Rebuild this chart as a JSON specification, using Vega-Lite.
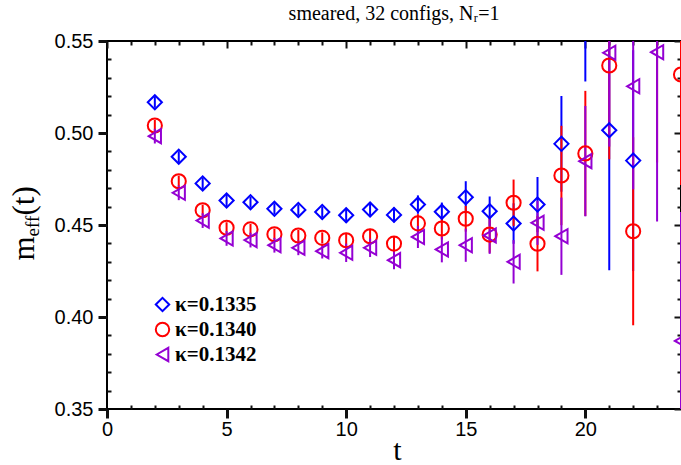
{
  "$schema": "https://vega.github.io/schema/vega-lite/v6.json",
  "width": 574,
  "height": 368,
  "autosize": {"type": "none"},
  "padding": {"left": 107, "top": 41, "right": 0, "bottom": 56},
  "background": "white",
  "title": {"text": "smeared, 32 configs, Nᵣ=1", "font": "Liberation Serif", "fontSize": 20, "fontWeight": "normal", "color": "black", "anchor": "middle", "frame": "group", "offset": 7},
  "config": {
    "view": {"stroke": "black", "strokeWidth": 2},
    "axis": {"grid": false, "domain": false},
    "legend": {"orient": "none", "legendX": 45, "legendY": 253, "padding": 0, "labelFont": "Liberation Serif", "labelFontWeight": "bold", "labelFontSize": 21, "labelColor": "black", "symbolSize": 180, "symbolStrokeWidth": 2, "rowPadding": 2, "labelOffset": 2}
  },
  "data": {"values": [
    {"t": 2, "kappa": "κ=0.1335", "m": 0.5167, "lo": 0.5137, "hi": 0.5197},
    {"t": 3, "kappa": "κ=0.1335", "m": 0.4871, "lo": 0.4841, "hi": 0.4901},
    {"t": 4, "kappa": "κ=0.1335", "m": 0.4726, "lo": 0.4696, "hi": 0.4756},
    {"t": 5, "kappa": "κ=0.1335", "m": 0.4633, "lo": 0.4603, "hi": 0.4663},
    {"t": 6, "kappa": "κ=0.1335", "m": 0.4624, "lo": 0.4594, "hi": 0.4654},
    {"t": 7, "kappa": "κ=0.1335", "m": 0.4588, "lo": 0.4558, "hi": 0.4618},
    {"t": 8, "kappa": "κ=0.1335", "m": 0.4582, "lo": 0.4552, "hi": 0.4612},
    {"t": 9, "kappa": "κ=0.1335", "m": 0.4571, "lo": 0.4541, "hi": 0.4601},
    {"t": 10, "kappa": "κ=0.1335", "m": 0.4553, "lo": 0.4513, "hi": 0.4593},
    {"t": 11, "kappa": "κ=0.1335", "m": 0.4584, "lo": 0.4544, "hi": 0.4624},
    {"t": 12, "kappa": "κ=0.1335", "m": 0.4555, "lo": 0.4515, "hi": 0.4595},
    {"t": 13, "kappa": "κ=0.1335", "m": 0.4611, "lo": 0.4561, "hi": 0.4661},
    {"t": 14, "kappa": "κ=0.1335", "m": 0.4572, "lo": 0.4522, "hi": 0.4622},
    {"t": 15, "kappa": "κ=0.1335", "m": 0.4651, "lo": 0.4564, "hi": 0.4738},
    {"t": 16, "kappa": "κ=0.1335", "m": 0.4575, "lo": 0.4495, "hi": 0.4655},
    {"t": 17, "kappa": "κ=0.1335", "m": 0.4508, "lo": 0.4398, "hi": 0.4618},
    {"t": 18, "kappa": "κ=0.1335", "m": 0.4611, "lo": 0.4461, "hi": 0.4761},
    {"t": 19, "kappa": "κ=0.1335", "m": 0.4941, "lo": 0.4681, "hi": 0.5201},
    {"t": 20, "kappa": "κ=0.1335", "m": 0.585, "lo": 0.528, "hi": 0.642},
    {"t": 21, "kappa": "κ=0.1335", "m": 0.5015, "lo": 0.4254, "hi": 0.5776},
    {"t": 22, "kappa": "κ=0.1335", "m": 0.485, "lo": 0.425, "hi": 0.545},
    {"t": 2, "kappa": "κ=0.1340", "m": 0.5041, "lo": 0.5011, "hi": 0.5071},
    {"t": 3, "kappa": "κ=0.1340", "m": 0.4738, "lo": 0.4708, "hi": 0.4768},
    {"t": 4, "kappa": "κ=0.1340", "m": 0.458, "lo": 0.455, "hi": 0.461},
    {"t": 5, "kappa": "κ=0.1340", "m": 0.4485, "lo": 0.4455, "hi": 0.4515},
    {"t": 6, "kappa": "κ=0.1340", "m": 0.4476, "lo": 0.4446, "hi": 0.4506},
    {"t": 7, "kappa": "κ=0.1340", "m": 0.445, "lo": 0.442, "hi": 0.448},
    {"t": 8, "kappa": "κ=0.1340", "m": 0.4443, "lo": 0.4413, "hi": 0.4473},
    {"t": 9, "kappa": "κ=0.1340", "m": 0.443, "lo": 0.44, "hi": 0.446},
    {"t": 10, "kappa": "κ=0.1340", "m": 0.4417, "lo": 0.4377, "hi": 0.4457},
    {"t": 11, "kappa": "κ=0.1340", "m": 0.4439, "lo": 0.4399, "hi": 0.4479},
    {"t": 12, "kappa": "κ=0.1340", "m": 0.4399, "lo": 0.4359, "hi": 0.4439},
    {"t": 13, "kappa": "κ=0.1340", "m": 0.4509, "lo": 0.4459, "hi": 0.4559},
    {"t": 14, "kappa": "κ=0.1340", "m": 0.4481, "lo": 0.4421, "hi": 0.4541},
    {"t": 15, "kappa": "κ=0.1340", "m": 0.4534, "lo": 0.4464, "hi": 0.4604},
    {"t": 16, "kappa": "κ=0.1340", "m": 0.4448, "lo": 0.4349, "hi": 0.4547},
    {"t": 17, "kappa": "κ=0.1340", "m": 0.4621, "lo": 0.4495, "hi": 0.4747},
    {"t": 18, "kappa": "κ=0.1340", "m": 0.4398, "lo": 0.4248, "hi": 0.4548},
    {"t": 19, "kappa": "κ=0.1340", "m": 0.4769, "lo": 0.4499, "hi": 0.5039},
    {"t": 20, "kappa": "κ=0.1340", "m": 0.4889, "lo": 0.4549, "hi": 0.5229},
    {"t": 21, "kappa": "κ=0.1340", "m": 0.5367, "lo": 0.4857, "hi": 0.5877},
    {"t": 22, "kappa": "κ=0.1340", "m": 0.4466, "lo": 0.3955, "hi": 0.4977},
    {"t": 23, "kappa": "κ=0.1340", "m": 0.58, "lo": 0.484, "hi": 0.676},
    {"t": 24, "kappa": "κ=0.1340", "m": 0.5318, "lo": 0.4718, "hi": 0.5918},
    {"t": 2, "kappa": "κ=0.1342", "m": 0.4983, "lo": 0.4943, "hi": 0.5023},
    {"t": 3, "kappa": "κ=0.1342", "m": 0.4675, "lo": 0.4635, "hi": 0.4715},
    {"t": 4, "kappa": "κ=0.1342", "m": 0.4524, "lo": 0.4484, "hi": 0.4564},
    {"t": 5, "kappa": "κ=0.1342", "m": 0.4427, "lo": 0.4387, "hi": 0.4467},
    {"t": 6, "kappa": "κ=0.1342", "m": 0.4418, "lo": 0.4378, "hi": 0.4458},
    {"t": 7, "kappa": "κ=0.1342", "m": 0.439, "lo": 0.435, "hi": 0.443},
    {"t": 8, "kappa": "κ=0.1342", "m": 0.4376, "lo": 0.4336, "hi": 0.4416},
    {"t": 9, "kappa": "κ=0.1342", "m": 0.4358, "lo": 0.4318, "hi": 0.4398},
    {"t": 10, "kappa": "κ=0.1342", "m": 0.4349, "lo": 0.4299, "hi": 0.4399},
    {"t": 11, "kappa": "κ=0.1342", "m": 0.4376, "lo": 0.4326, "hi": 0.4426},
    {"t": 12, "kappa": "κ=0.1342", "m": 0.4309, "lo": 0.4259, "hi": 0.4359},
    {"t": 13, "kappa": "κ=0.1342", "m": 0.4435, "lo": 0.4375, "hi": 0.4495},
    {"t": 14, "kappa": "κ=0.1342", "m": 0.4367, "lo": 0.4297, "hi": 0.4437},
    {"t": 15, "kappa": "κ=0.1342", "m": 0.439, "lo": 0.43, "hi": 0.448},
    {"t": 16, "kappa": "κ=0.1342", "m": 0.4443, "lo": 0.4343, "hi": 0.4543},
    {"t": 17, "kappa": "κ=0.1342", "m": 0.43, "lo": 0.4182, "hi": 0.4418},
    {"t": 18, "kappa": "κ=0.1342", "m": 0.4512, "lo": 0.4392, "hi": 0.4632},
    {"t": 19, "kappa": "κ=0.1342", "m": 0.4439, "lo": 0.4229, "hi": 0.4649},
    {"t": 20, "kappa": "κ=0.1342", "m": 0.4847, "lo": 0.4547, "hi": 0.5147},
    {"t": 21, "kappa": "κ=0.1342", "m": 0.5436, "lo": 0.4926, "hi": 0.5946},
    {"t": 22, "kappa": "κ=0.1342", "m": 0.5254, "lo": 0.4694, "hi": 0.5814},
    {"t": 23, "kappa": "κ=0.1342", "m": 0.5439, "lo": 0.4519, "hi": 0.6359},
    {"t": 24, "kappa": "κ=0.1342", "m": 0.387, "lo": 0.317, "hi": 0.457}
  ]},
  "resolve": {"axis": {"x": "independent", "y": "independent"}},
  "layer": [
    {
      "mark": {"type": "rule", "strokeWidth": 2, "clip": true},
      "encoding": {
        "x": {"field": "t", "type": "quantitative", "scale": {"domain": [0, 24], "nice": false, "zero": false},
          "axis": {"orient": "bottom", "values": [0, 5, 10, 15, 20], "format": "d", "ticks": true, "tickSize": 9, "tickColor": "#111111", "tickWidth": 3,
            "labelFont": "Liberation Sans", "labelFontSize": 20, "labelColor": "black", "labelPadding": 1, "labelFlush": false, "labelOverlap": false, "labelBound": false,
            "title": "t", "titleFont": "Liberation Serif", "titleFontSize": 30, "titleFontWeight": "normal", "titleColor": "black", "titleBaseline": "alphabetic", "titleAlign": "center", "titleX": 290, "titleY": 50}},
        "y": {"field": "lo", "type": "quantitative", "scale": {"domain": [0.35, 0.55], "nice": false, "zero": false},
          "axis": {"orient": "left", "values": [0.35, 0.40, 0.45, 0.50, 0.55], "format": ".2f", "ticks": true, "tickSize": 9, "tickColor": "#111111", "tickWidth": 3,
            "labelFont": "Liberation Sans", "labelFontSize": 20, "labelColor": "black", "labelPadding": 5, "labelFlush": false, "labelOverlap": false, "labelBound": false,
            "title": "m", "titleFont": "Liberation Serif", "titleFontSize": 31, "titleFontWeight": "normal", "titleColor": "black", "titleAngle": -90, "titleAlign": "left", "titleBaseline": "alphabetic", "titleX": -74, "titleY": 219}},
        "y2": {"field": "hi"},
        "color": {"field": "kappa", "type": "nominal", "scale": {"domain": ["κ=0.1335", "κ=0.1340", "κ=0.1342"], "range": ["#0000ff", "#ff0000", "#9400d3"]}, "legend": {"title": null}}
      }
    },
    {
      "mark": {"type": "point", "filled": false, "strokeWidth": 2, "size": 200, "opacity": 1, "clip": true},
      "encoding": {
        "x": {"field": "t", "type": "quantitative", "scale": {"domain": [0, 24], "nice": false, "zero": false},
          "axis": {"orient": "top", "values": [0, 5, 10, 15, 20], "labels": false, "ticks": true, "tickSize": 7, "offset": -7, "tickColor": "#111111", "tickWidth": 2, "title": null}},
        "y": {"field": "m", "type": "quantitative", "scale": {"domain": [0.35, 0.55], "nice": false, "zero": false},
          "axis": {"orient": "right", "values": [0.35, 0.40, 0.45, 0.50, 0.55], "labels": false, "ticks": true, "tickSize": 7, "offset": -7, "tickColor": "#111111", "tickWidth": 2, "title": null}},
        "color": {"field": "kappa", "type": "nominal", "scale": {"domain": ["κ=0.1335", "κ=0.1340", "κ=0.1342"], "range": ["#0000ff", "#ff0000", "#9400d3"]}, "legend": {"title": null}},
        "shape": {"field": "kappa", "type": "nominal", "scale": {"domain": ["κ=0.1335", "κ=0.1340", "κ=0.1342"], "range": ["diamond", "circle", "triangle-left"]}, "legend": {"title": null}}
      }
    },
    {
      "mark": {"type": "point", "opacity": 0, "clip": true},
      "encoding": {
        "x": {"field": "t", "type": "quantitative", "scale": {"domain": [0, 24], "nice": false, "zero": false},
          "axis": {"orient": "bottom", "values": [1,2,3,4,6,7,8,9,11,12,13,14,16,17,18,19,21,22,23], "labels": false, "ticks": true, "tickSize": 4, "offset": -4, "tickColor": "#111111", "tickWidth": 2, "title": null}},
        "y": {"field": "m", "type": "quantitative", "scale": {"domain": [0.35, 0.55], "nice": false, "zero": false},
          "axis": {"orient": "left", "values": [0.36,0.37,0.38,0.39,0.41,0.42,0.43,0.44,0.46,0.47,0.48,0.49,0.51,0.52,0.53,0.54], "labels": false, "ticks": true, "tickSize": 4, "offset": -4, "tickColor": "#111111", "tickWidth": 2,
            "title": "eff", "titleFont": "Liberation Serif", "titleFontSize": 19, "titleFontWeight": "normal", "titleColor": "black", "titleAngle": -90, "titleAlign": "left", "titleBaseline": "alphabetic", "titleX": -73, "titleY": 195}}
      }
    },
    {
      "mark": {"type": "point", "opacity": 0, "clip": true},
      "encoding": {
        "x": {"field": "t", "type": "quantitative", "scale": {"domain": [0, 24], "nice": false, "zero": false},
          "axis": {"orient": "top", "values": [1,2,3,4,6,7,8,9,11,12,13,14,16,17,18,19,21,22,23], "labels": false, "ticks": true, "tickSize": 4, "offset": -4, "tickColor": "#111111", "tickWidth": 2, "title": null}},
        "y": {"field": "m", "type": "quantitative", "scale": {"domain": [0.35, 0.55], "nice": false, "zero": false},
          "axis": {"orient": "right", "values": [0.36,0.37,0.38,0.39,0.41,0.42,0.43,0.44,0.46,0.47,0.48,0.49,0.51,0.52,0.53,0.54], "labels": false, "ticks": true, "tickSize": 4, "offset": -4, "tickColor": "#111111", "tickWidth": 2, "title": null}}
      }
    },
    {
      "mark": {"type": "point", "opacity": 0, "clip": true},
      "encoding": {
        "x": {"field": "t", "type": "quantitative", "scale": {"domain": [0, 24], "nice": false, "zero": false}, "axis": null},
        "y": {"field": "m", "type": "quantitative", "scale": {"domain": [0.35, 0.55], "nice": false, "zero": false},
          "axis": {"orient": "left", "domain": false, "ticks": false, "labels": false,
            "title": "(t)", "titleFont": "Liberation Serif", "titleFontSize": 31, "titleFontWeight": "normal", "titleColor": "black", "titleAngle": -90, "titleAlign": "left", "titleBaseline": "alphabetic", "titleX": -74, "titleY": 174}}
      }
    }
  ]
}
